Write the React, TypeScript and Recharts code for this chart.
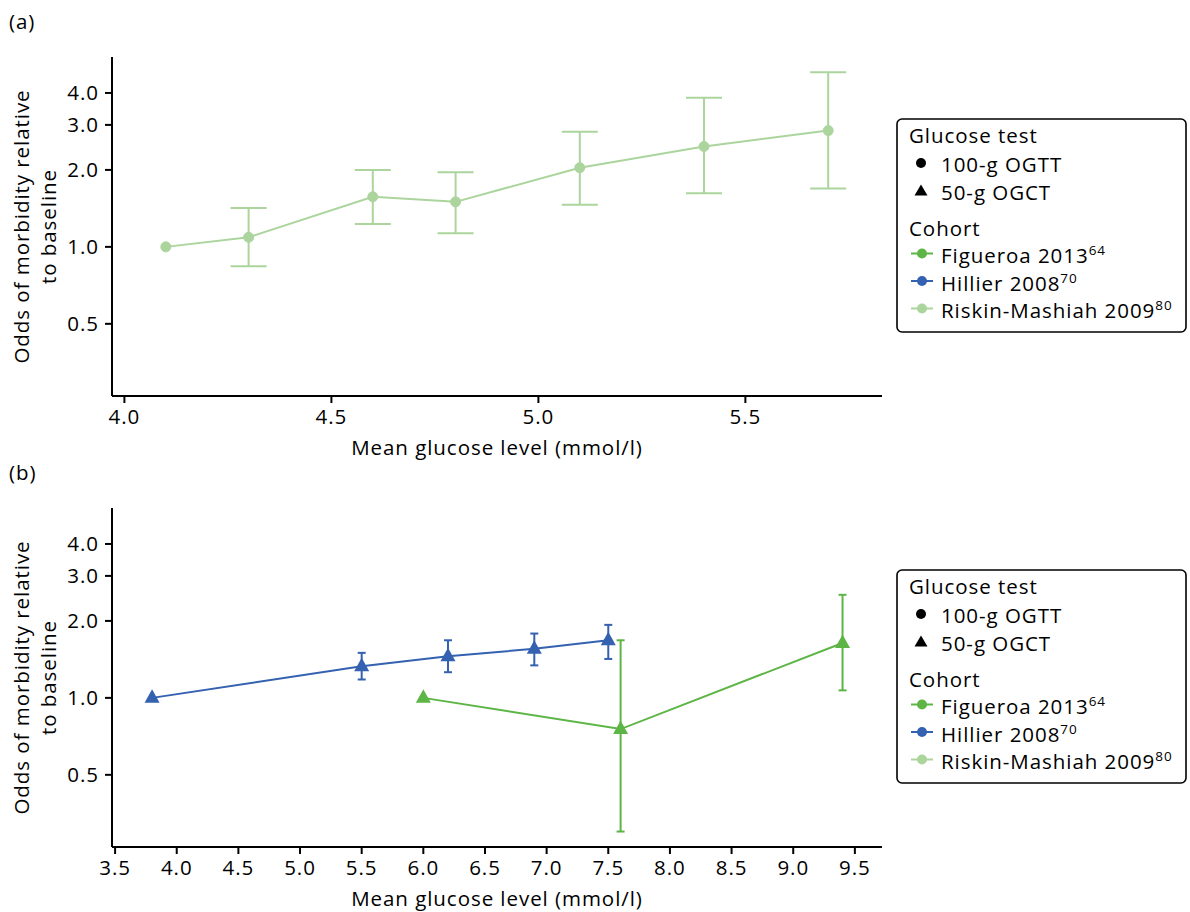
import React from 'react';
import { LineChart, Line, XAxis, YAxis, ErrorBar } from 'recharts';

// panel (a): Riskin-Mashiah 2009, 100-g OGTT
const riskinX = [4.1, 4.3, 4.6, 4.8, 5.1, 5.4, 5.7];
const riskinY = [1.0, 1.09, 1.57, 1.5, 2.04, 2.47, 2.85];
const riskinLo = [null, 0.84, 1.23, 1.13, 1.46, 1.62, 1.69];
const riskinHi = [null, 1.42, 2.0, 1.96, 2.82, 3.83, 4.82];

// panel (b): 50-g OGCT cohorts
const hillierX = [3.8, 5.5, 6.2, 6.9, 7.5];
const hillierY = [1.0, 1.33, 1.455, 1.555, 1.68];
const hillierLo = [null, 1.18, 1.26, 1.34, 1.42];
const hillierHi = [null, 1.5, 1.68, 1.785, 1.93];

const figueroaX = [6.0, 7.6, 9.4];
const figueroaY = [1.0, 0.755, 1.64];
const figueroaLo = [null, 0.3, 1.07];
const figueroaHi = [null, 1.68, 2.53];

const xTicksA = [4.0, 4.5, 5.0, 5.5];
const xTicksB = [3.5, 4.0, 4.5, 5.0, 5.5, 6.0, 6.5, 7.0, 7.5, 8.0, 8.5, 9.0, 9.5];
const yTicks = [0.5, 1.0, 2.0, 3.0, 4.0];

const FONT = "'Open Sans', sans-serif";
const FS = 20.5;
const LS = 0.95;
const C_RISKIN = '#abd59d';
const C_FIGUEROA = '#5db546';
const C_HILLIER = '#3461b0';

const build = (xs: number[], ys: number[], lo: (number | null)[], hi: (number | null)[]) =>
  xs.map((x, i) => ({
    x,
    y: ys[i],
    err: lo[i] == null || hi[i] == null ? null : [ys[i] - (lo[i] as number), (hi[i] as number) - ys[i]],
  }));

const riskinData = build(riskinX, riskinY, riskinLo, riskinHi);
const hillierData = build(hillierX, hillierY, hillierLo, hillierHi);
const figueroaData = build(figueroaX, figueroaY, figueroaLo, figueroaHi);

const txt = { fill: '#000', fontSize: FS, fontFamily: FONT, letterSpacing: LS };
const axisLine = { stroke: '#000', strokeWidth: 2 };

const triangle = (color: string) => (props: any) => {
  const { cx, cy, index } = props;
  if (cx == null || cy == null) return <g key={index} />;
  return (
    <polygon
      key={index}
      points={`${cx},${cy - 8.5} ${cx - 7.5},${cy + 5} ${cx + 7.5},${cy + 5}`}
      fill={color}
    />
  );
};

const YTitle = (props: any) => {
  const vb = props.viewBox || { y: 0, height: 0 };
  const cy = vb.y + vb.height / 2;
  return (
    <g>
      <text transform={`translate(29, ${cy}) rotate(-90)`} textAnchor="middle" {...txt}>
        Odds of morbidity relative
      </text>
      <text transform={`translate(56, ${cy}) rotate(-90)`} textAnchor="middle" {...txt}>
        to baseline
      </text>
    </g>
  );
};

const Legend = ({ top }: { top: number }) => {
  const sup = (s: string) => (
    <tspan dy={-8} fontSize={13.5}>{s}</tspan>
  );
  const cohort = [
    { name: 'Figueroa 2013', ref: '64', color: C_FIGUEROA },
    { name: 'Hillier 2008', ref: '70', color: C_HILLIER },
    { name: 'Riskin-Mashiah 2009', ref: '80', color: C_RISKIN },
  ];
  return (
    <svg style={{ position: 'absolute', left: 896, top, overflow: 'visible' }} width={292} height={216}>
      <rect x={1} y={1} width={289} height={213} rx={5} fill="#fff" stroke="#000" strokeWidth={1.6} />
      <text x={13} y={25} {...txt}>Glucose test</text>
      <circle cx={25} cy={45} r={5} fill="#000" />
      <text x={45} y={54} {...txt}>100-g OGTT</text>
      <polygon points="25,66.5 18.5,77.5 31.5,77.5" fill="#000" />
      <text x={45} y={81.5} {...txt}>50-g OGCT</text>
      <text x={13} y={117.5} {...txt}>Cohort</text>
      {cohort.map((c, i) => {
        const base = 145 + i * 27.5;
        return (
          <g key={c.name}>
            <line x1={15} x2={37} y1={base - 9.5} y2={base - 9.5} stroke={c.color} strokeWidth={2} />
            <circle cx={26} cy={base - 9.5} r={5} fill={c.color} />
            <text x={45} y={base} {...txt}>
              {c.name}
              {sup(c.ref)}
            </text>
          </g>
        );
      })}
    </svg>
  );
};

const Panel = ({ top, letter, xDomain, xTicks, children }: any) => (
  <div style={{ position: 'absolute', left: 0, top, width: 890, height: 460 }}>
    <div
      style={{
        position: 'absolute',
        left: 9,
        top: 9,
        fontSize: FS,
        fontFamily: FONT,
        letterSpacing: LS,
        lineHeight: '24px',
      }}
    >
      ({letter})
    </div>
    <LineChart width={890} height={460} margin={{ top: 57, right: 8, left: 0, bottom: 0 }}>
      <XAxis
        type="number"
        dataKey="x"
        domain={xDomain}
        allowDataOverflow
        ticks={xTicks}
        tickFormatter={(v: number) => v.toFixed(1)}
        tick={txt}
        tickSize={7}
        tickMargin={6}
        axisLine={axisLine}
        tickLine={axisLine}
        height={64}
        label={{
          value: 'Mean glucose level (mmol/l)',
          position: 'insideBottom',
          offset: 5,
          ...txt,
        }}
      />
      <YAxis
        type="number"
        scale="log"
        domain={[0.261, 5.53]}
        allowDataOverflow
        ticks={yTicks}
        tickFormatter={(v: number) => v.toFixed(1)}
        tick={txt}
        tickSize={7}
        tickMargin={6}
        axisLine={axisLine}
        tickLine={axisLine}
        width={112}
        label={<YTitle />}
      />
      {children}
    </LineChart>
  </div>
);

export default function App() {
  return (
    <div style={{ position: 'absolute', left: 0, top: 0, width: 1190, height: 912, background: '#fff' }}>
      <Panel top={0} letter="a" xDomain={[3.97, 5.83]} xTicks={xTicksA}>
        <Line
          data={riskinData}
          dataKey="y"
          stroke={C_RISKIN}
          strokeWidth={2}
          dot={{ r: 5, fill: C_RISKIN, stroke: C_RISKIN, strokeWidth: 1 }}
          isAnimationActive={false}
        >
          <ErrorBar dataKey="err" direction="y" width={18} stroke={C_RISKIN} strokeWidth={2} />
        </Line>
      </Panel>
      <Legend top={118} />
      <Panel top={451} letter="b" xDomain={[3.475, 9.72]} xTicks={xTicksB}>
        <Line
          data={hillierData}
          dataKey="y"
          stroke={C_HILLIER}
          strokeWidth={2}
          dot={triangle(C_HILLIER)}
          isAnimationActive={false}
        >
          <ErrorBar dataKey="err" direction="y" width={4} stroke={C_HILLIER} strokeWidth={2} />
        </Line>
        <Line
          data={figueroaData}
          dataKey="y"
          stroke={C_FIGUEROA}
          strokeWidth={2}
          dot={triangle(C_FIGUEROA)}
          isAnimationActive={false}
        >
          <ErrorBar dataKey="err" direction="y" width={4} stroke={C_FIGUEROA} strokeWidth={2} />
        </Line>
      </Panel>
      <Legend top={569} />
    </div>
  );
}
